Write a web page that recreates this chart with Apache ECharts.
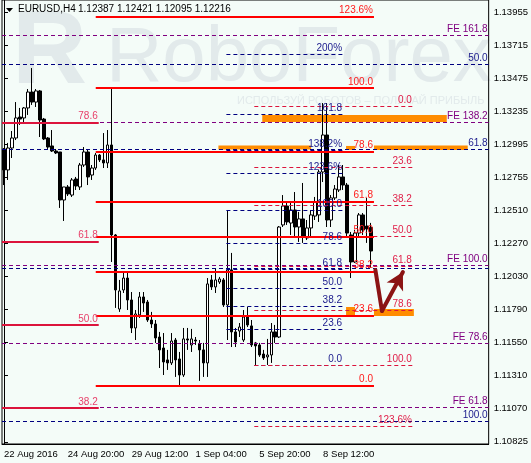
<!DOCTYPE html>
<html>
<head>
<meta charset="utf-8">
<script src="https://cdn.jsdelivr.net/npm/echarts@6/dist/echarts.min.js"></script>
<style>
  html, body { margin: 0; padding: 0; background: #f4fcf8; }
  #chart { width: 531px; height: 463px; }
</style>
</head>
<body>
<div id="chart"></div>
<script>
// EURUSD H4 candles, 22 Aug - 9 Sep 2016
const openP = [1.12960,1.12807,1.12967,1.13040,1.13193,1.13186,1.13259,1.13375,1.13302,1.13383,
  1.13178,1.13040,1.12982,1.12945,1.12938,1.12588,1.12683,1.12624,1.12741,1.12683,
  1.12843,1.12938,1.12770,1.12821,1.12916,1.12880,1.12858,1.12989,1.12333,1.11793,
  1.11932,1.12019,1.11859,1.11655,1.11750,1.11881,1.11844,1.11713,1.11684,1.11589,
  1.11509,1.11422,1.11400,1.11567,1.11429,1.11312,1.11575,1.11531,1.11567,1.11538,
  1.11495,1.11400,1.12005,1.11954,1.11990,1.12005,1.11823,1.12078,1.11626,1.11633,
  1.11567,1.11742,1.11670,1.11546,1.11531,1.11465,1.11444,1.11458,1.11626,1.11589,
  1.12406,1.12544,1.12420,1.12515,1.12391,1.12450,1.12311,1.12384,1.12471,1.12479,
  1.12792,1.13062,1.12442,1.12603,1.12661,1.12756,1.12697,1.12333,1.12136,1.12347,
  1.12479,1.12398,1.12387];
const highP = [1.12967,1.13004,1.13091,1.13302,1.13259,1.13266,1.13397,1.13550,1.13397,1.13390,
  1.13186,1.13047,1.13098,1.12960,1.12938,1.12683,1.12697,1.12748,1.12756,1.12858,
  1.12974,1.12953,1.12843,1.12931,1.12923,1.13076,1.13098,1.13405,1.12340,1.12005,
  1.12063,1.12063,1.11917,1.11786,1.11917,1.11917,1.11859,1.11772,1.11713,1.11626,
  1.11618,1.11495,1.11618,1.11582,1.11480,1.11655,1.11655,1.11648,1.11589,1.11567,
  1.11546,1.12019,1.12041,1.12085,1.12027,1.12019,1.12515,1.12202,1.11655,1.11691,
  1.11786,1.11808,1.11713,1.11553,1.11546,1.11495,1.11575,1.11691,1.11677,1.12398,
  1.12624,1.12566,1.12573,1.12646,1.12501,1.12712,1.12442,1.12515,1.12610,1.12807,
  1.13295,1.13295,1.12624,1.12697,1.12843,1.12843,1.12712,1.12355,1.12369,1.12493,
  1.12493,1.12603,1.12421];
const lowP = [1.12697,1.12734,1.12894,1.13025,1.13135,1.13149,1.13208,1.13281,1.13266,1.13047,
  1.13025,1.12960,1.12938,1.12923,1.12530,1.12435,1.12617,1.12610,1.12661,1.12661,
  1.12829,1.12697,1.12734,1.12807,1.12865,1.12821,1.12821,1.12136,1.11801,1.11772,
  1.11910,1.11786,1.11618,1.11567,1.11728,1.11772,1.11699,1.11655,1.11546,1.11363,
  1.11312,1.11349,1.11385,1.11298,1.11225,1.11298,1.11495,1.11480,1.11531,1.11269,
  1.11298,1.11298,1.11932,1.11910,1.11976,1.11808,1.11567,1.11516,1.11516,1.11589,
  1.11553,1.11662,1.11516,1.11385,1.11444,1.11422,1.11385,1.11400,1.11546,1.11582,
  1.12391,1.12406,1.12333,1.12318,1.12282,1.12275,1.12296,1.12318,1.12442,1.12428,
  1.12719,1.12391,1.12391,1.12588,1.12646,1.12661,1.12318,1.12019,1.12129,1.12318,
  1.12333,1.12275,1.12095];
const closeP = [1.12807,1.12967,1.13040,1.13186,1.13178,1.13259,1.13375,1.13302,1.13383,1.13171,
  1.13033,1.12974,1.12945,1.12931,1.12588,1.12683,1.12632,1.12734,1.12690,1.12843,
  1.12938,1.12756,1.12821,1.12916,1.12880,1.12858,1.12989,1.12333,1.11932,1.11925,
  1.12019,1.11859,1.11655,1.11757,1.11881,1.11837,1.11713,1.11684,1.11582,1.11495,
  1.11407,1.11400,1.11560,1.11422,1.11312,1.11575,1.11567,1.11575,1.11560,1.11495,
  1.11400,1.11976,1.11954,1.12005,1.12012,1.11823,1.12078,1.11626,1.11553,1.11662,
  1.11735,1.11677,1.11531,1.11524,1.11458,1.11436,1.11458,1.11626,1.11589,1.12391,
  1.12544,1.12428,1.12515,1.12391,1.12450,1.12318,1.12384,1.12479,1.12573,1.12792,
  1.13062,1.12442,1.12603,1.12668,1.12756,1.12697,1.12347,1.12136,1.12347,1.12479,
  1.12369,1.12377,1.12216];

// x axis: bar slots and time labels
const barSlots = 122;
const timeTickIdx = [0, 16, 32, 48, 64, 80];
const timeTickText = ['22 Aug 2016', '24 Aug 20:00', '29 Aug 12:00', '1 Sep 04:00', '5 Sep 20:00', '8 Sep 12:00'];

// price axis labels
const priceTicks = [1.13955, 1.13715, 1.13475, 1.13235, 1.12995, 1.12755, 1.12510,
  1.12270, 1.12030, 1.11790, 1.11550, 1.11310, 1.11070, 1.10825];
const priceMin = 1.10809, priceMax = 1.14046;

// fibo retracement (red, solid)
const redSolidText = ['123.6%', '100.0', '78.6', '61.8', '50.0', '38.2', '23.6', '0.0'];
const redSolidPrice = [1.13924, 1.13405, 1.12940, 1.12576, 1.12320, 1.12065, 1.11745, 1.11234];
const redSolidSpan = [23, 92.75];

// older retracement on the left (crimson, solid)
const leftText = ['78.6', '61.8', '50.0', '38.2'];
const leftPrice = [1.13153, 1.12285, 1.11675, 1.11070];
const leftSpan = [-0.5, 23.75];

// fibo expansion (purple, dashed, full width)
const feText = ['FE 161.8', 'FE 138.2', 'FE 100.0', 'FE 78.6', 'FE 61.8'];
const fePrice = [1.13791, 1.13154, 1.12109, 1.11542, 1.11075];

// big retracement (navy, dashed, full width)
const navyText = ['50.0', '61.8', '', '100.0'];
const navyPrice = [1.13579, 1.12958, 1.12090, 1.10972];

// extension (navy, dashed, short)
const extText = ['200%', '161.8', '138.2%', '123.6%', '100.0', '78.6', '61.8', '50.0', '38.2', '23.6', '0.0'];
const extPrice = [1.13650, 1.13213, 1.12949, 1.12783, 1.12515, 1.12272, 1.12081, 1.11947, 1.11815, 1.11645, 1.11380];
const extStart = [55.75, 55.75, 55.75, 55.75, 55.75, 55.75, 55.75, 55.75, 55.75, 55.75, 62.75];
const extEnd = 85;

// recent retracement (crimson, dashed)
const rdText = ['0.0', '23.6', '38.2', '50.0', '61.8', '78.6', '100.0', '123.6%'];
const rdPrice = [1.13273, 1.12826, 1.12550, 1.12326, 1.12105, 1.11786, 1.11380, 1.10937];
const rdSpan = [62.75, 102.5];

// orange zones
const zoneX0 = [64.75, 53.75, 85.75, 92.75, 85.75, 92.75];
const zoneX1 = [111, 77, 88, 116.25, 88, 102.75];
const zoneTop = [1.13208, 1.12985, 1.12982, 1.12985, 1.11808, 1.11793];
const zoneBottom = [1.13157, 1.12956, 1.12953, 1.12953, 1.11742, 1.11742];

// forecast arrow
const arrowX = [93.1, 94.75, 100];
const arrowY = [1.12078, 1.11779, 1.12063];

const FONT = '"Liberation Sans", Arial, sans-serif';
const full = [-0.5, barSlots - 0.5];

const chart = echarts.init(document.getElementById('chart'));
const cats = Array.from({ length: barSlots }, (_, i) => String(i));
const candles = openP.map((o, i) => [o, closeP[i], lowP[i], highP[i]]);
const last = candles.length - 1;

function fibLines(texts, prices, x0, x1, color, width, type, labelColor) {
    return texts.map((t, i) => [
        {
            coord: [Array.isArray(x0) ? x0[i] : x0, prices[i]],
            lineStyle: { color: color, width: width, type: type },
            label: {
                show: t !== '', formatter: t, position: 'insideEndTop', distance: [1, 1],
                color: labelColor, fontSize: 10, fontFamily: FONT
            }
        },
        { coord: [x1, prices[i]] }
    ]);
}

const levelData = [].concat(
    fibLines(feText, fePrice, full[0], full[1], '#800080', 1, [4, 3], '#800080'),
    fibLines(navyText, navyPrice, full[0], full[1], '#000080', 1, [4, 3], '#1a1a8c'),
    fibLines(extText, extPrice, extStart, extEnd, '#000080', 1, [4, 3], '#1a1a8c'),
    fibLines(rdText, rdPrice, rdSpan[0], rdSpan[1], '#dc143c', 1, [4, 3], '#e0204a'),
    fibLines(leftText, leftPrice, leftSpan[0], leftSpan[1], '#dc143c', 2, 'solid', '#e8406a'),
    fibLines(redSolidText, redSolidPrice, redSolidSpan[0], redSolidSpan[1], '#ff0000', 2, 'solid', '#ff1a1a')
);

const zoneData = zoneX0.map((x, i) => [
    { coord: [x, zoneTop[i]], itemStyle: { color: '#ff8c00' } },
    { coord: [zoneX1[i], zoneBottom[i]] }
]);

const arrowData = [
    [{ coord: [arrowX[0], arrowY[0]], symbol: 'none' }, { coord: [arrowX[1], arrowY[1]], symbol: 'none' }],
    [{ coord: [arrowX[1], arrowY[1]], symbol: 'none' }, { coord: [arrowX[2], arrowY[2]], symbol: 'arrow', symbolSize: [14, 17] }]
];

const option = {
    backgroundColor: '#f4fcf8',
    animation: false,
    textStyle: { fontFamily: FONT },
    grid: { left: 2, top: 0, width: 488, height: 444, show: true, borderColor: '#000', borderWidth: 1 },
    xAxis: [{
        type: 'category',
        data: cats,
        boundaryGap: true,
        axisLine: { lineStyle: { color: '#000' } },
        axisTick: {
            interval: (idx) => timeTickIdx.includes(idx),
            alignWithLabel: true, length: 3, lineStyle: { color: '#000' }
        },
        axisLabel: {
            interval: (idx) => timeTickIdx.includes(idx),
            formatter: (v) => timeTickText[timeTickIdx.indexOf(Number(v))],
            align: 'left', margin: 5, color: '#000', fontSize: 9.5, fontFamily: FONT
        },
        splitLine: { show: false }
    }, {
        type: 'value', min: full[0], max: full[1], show: false
    }],
    yAxis: {
        type: 'value', position: 'right', min: priceMin, max: priceMax,
        axisLine: { show: true, lineStyle: { color: '#000' } },
        axisTick: { show: true, customValues: priceTicks, length: 4, lineStyle: { color: '#000' } },
        axisLabel: {
            customValues: priceTicks, formatter: (v) => v.toFixed(5),
            margin: 5, color: '#000', fontSize: 9.5, fontFamily: FONT
        },
        splitLine: { show: false }
    },
    graphic: [
        { type: 'text', left: 12, top: 2, z: -10, silent: true,
          style: { text: 'R', font: 'bold 104px ' + FONT, fill: '#e2eaeb' } },
        { type: 'text', left: 106, top: 20, z: -10, silent: true,
          style: { text: 'RoboForex', font: '78px ' + FONT, fill: '#e2eaeb' } },
        { type: 'text', left: 237, top: 95, z: -10, silent: true,
          style: { text: 'ИСПОЛЬЗУЙ РОБОТОВ – ПОЛУЧАЙ ПРИБЫЛЬ', font: '11px ' + FONT, fill: '#e2eaeb' } },
        { type: 'polygon', z: 10, silent: true,
          shape: { points: [[6, 8], [13, 8], [9.5, 12]] }, style: { fill: '#000' } },
        { type: 'text', left: 18, top: 4, z: 10, silent: true,
          style: { text: 'EURUSD,H4', font: '10px ' + FONT, fill: '#000' } },
        { type: 'text', left: 78, top: 4, z: 10, silent: true,
          style: { text: [openP[last], highP[last], lowP[last], closeP[last]].map(v => v.toFixed(5)).join(' '),
                   font: '10px ' + FONT, fill: '#000' } }
    ],
    series: [{
        type: 'line', xAxisIndex: 1, data: [], z: 1, silent: true,
        markArea: { silent: true, data: zoneData },
        markLine: { silent: true, symbol: ['none', 'none'], data: levelData }
    }, {
        type: 'candlestick', xAxisIndex: 0, data: candles, z: 3, barWidth: 3,
        itemStyle: { color: '#ffffff', color0: '#000000', borderColor: '#000000', borderColor0: '#000000', borderWidth: 1 },
        markLine: {
            silent: true, symbol: ['none', 'none'],
            lineStyle: { opacity: 0 },
            label: {
                position: 'end', distance: 3, formatter: (p) => p.value.toFixed(5),
                backgroundColor: '#000', color: '#fff', padding: [2, 3, 1, 3], fontSize: 9.5, fontFamily: FONT
            },
            data: [{ yAxis: closeP[last] }]
        }
    }, {
        type: 'line', xAxisIndex: 1, data: [], z: 5, silent: true,
        markLine: {
            silent: true,
            lineStyle: { color: '#8b1414', width: 4, type: 'solid', cap: 'round' },
            label: { show: false },
            data: arrowData
        }
    }]
};
chart.setOption(option);
</script>
</body>
</html>
